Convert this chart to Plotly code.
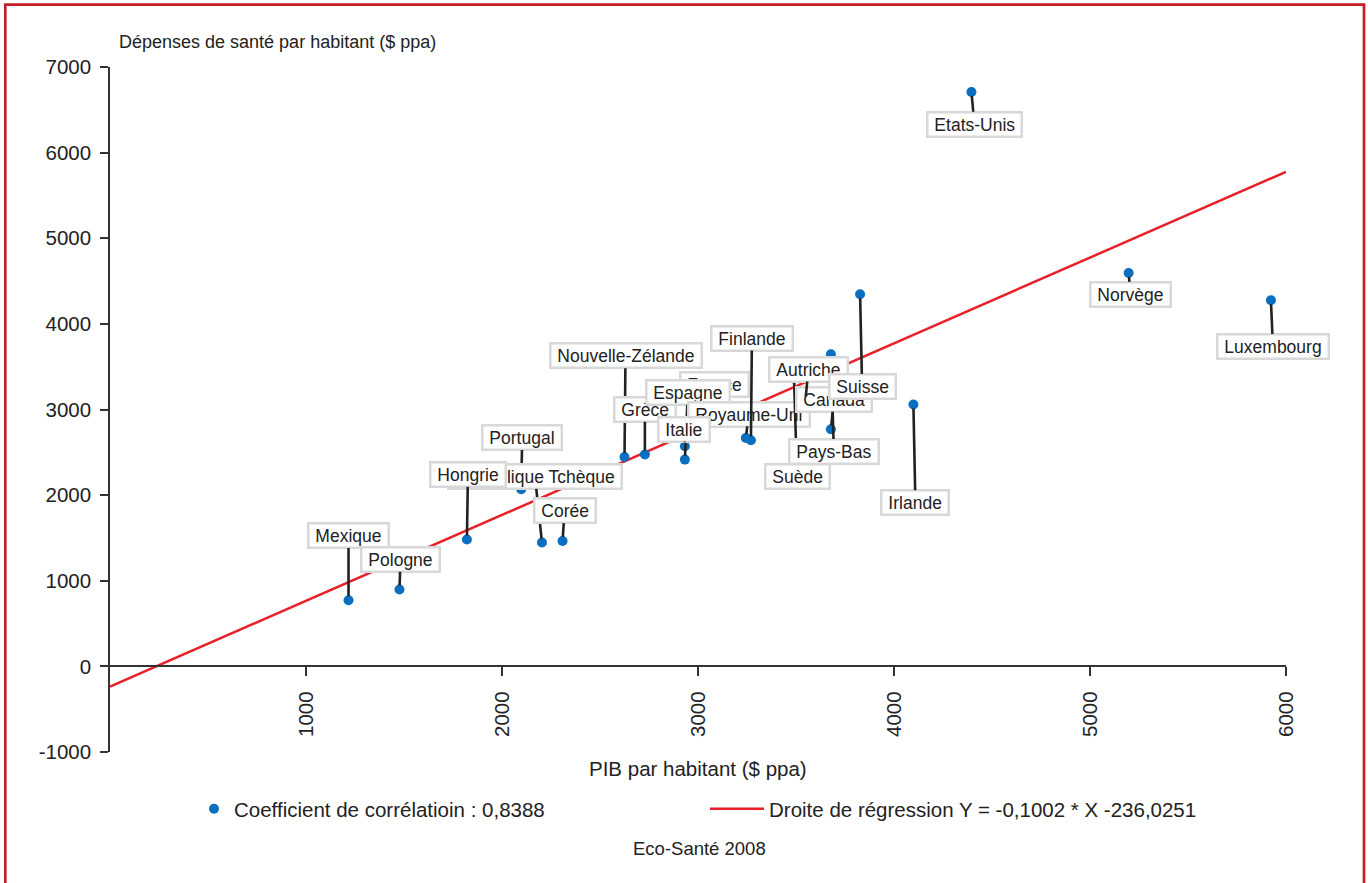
import plotly.graph_objects as go

# ---------------- data ----------------
countries = ["Mexique", "Pologne", "Portugal", "République Tchèque", "Hongrie", "Corée",
             "Nouvelle-Zélande", "Grèce", "France", "Espagne", "Royaume-Uni", "Italie",
             "Finlande", "Suède", "Pays-Bas", "Canada", "Autriche", "Suisse", "Irlande",
             "Etats-Unis", "Norvège", "Luxembourg"]
pib = [1217, 1477, 2098, 2204, 1821, 2309,
       2625, 2729, 3077, 2933, 3244, 2933,
       3270, 3490, 3678, 3678, 3548, 3827, 4099,
       4395, 5197, 5923]
depenses = [772, 897, 2068, 1446, 1481, 1465,
            2446, 2474, 2944, 2415, 2667, 2571,
            2641, 3361, 3645, 2769, 3108, 4346, 3058,
            6708, 4594, 4276]
reg_x = [0, 6000]
reg_y = [-236, 5776]
x_ticks = [1000, 2000, 3000, 4000, 5000, 6000]
y_ticks = [-1000, 0, 1000, 2000, 3000, 4000, 5000, 6000, 7000]

# label offsets in pixels (layout only)
label_dx = [0, 1, 1, -7, 1, 2, 1, 0, 1, 3, 3, -1, 1, 3, 3, 3, 3, 2, 2, 3, 2, 2]
label_dy = [-64.5, -30, -51.5, -66, -65, -30, -101, -45, -30, -67, -24, -17, -102,
            98, 97, -30, -31, 92, 98, 32, 21, 46]

# ---------------- geometry ----------------
W, H = 1368, 883
L, R, T, B = 110, 1368 - 1286, 67, 883 - 752
PW, PH = W - L - R, H - T - B


def px(xp):
    return (xp - L) / PW


def py(yp):
    return (H - B - yp) / PH


FONT = "Liberation Sans, Arial, Helvetica, sans-serif"
TXT = "#222222"

fig = go.Figure()
fig.add_trace(go.Scatter(
    x=reg_x, y=reg_y, mode="lines",
    line=dict(color="#e8202a", width=2.5),
    name="Droite de régression Y = -0,1002 * X -236,0251",
    legend="legend2", hoverinfo="skip"))
fig.add_trace(go.Scatter(
    x=pib, y=depenses, mode="markers",
    marker=dict(color="#0a6fc0", size=10),
    name="Coefficient de corrélatioin : 0,8388",
    text=countries, legend="legend"))

annotations = []
for c, xv, yv, dx, dy in zip(countries, pib, depenses, label_dx, label_dy):
    annotations.append(dict(
        x=xv, y=yv, xref="x", yref="y", ax=dx, ay=dy,
        text="\u00a0" + c + "\u00a0",
        showarrow=True, arrowhead=0, arrowwidth=2.6, arrowcolor="#222222", standoff=4,
        bgcolor="white", bordercolor="#d8d8d8", borderwidth=2.5, borderpad=1,
        font=dict(family=FONT, size=17.5, color=TXT)))

annotations.append(dict(
    x=px(117), y=py(42), xref="paper", yref="paper", xanchor="left", yanchor="middle",
    text="Dépenses de santé par habitant ($ ppa)", showarrow=False,
    font=dict(family=FONT, size=18, color=TXT)))
annotations.append(dict(
    x=px(700), y=py(848), xref="paper", yref="paper", xanchor="center", yanchor="middle",
    text="Eco-Santé 2008", showarrow=False,
    font=dict(family=FONT, size=18.5, color=TXT)))
annotations.append(dict(
    x=px(698), y=py(768), xref="paper", yref="paper", xanchor="center", yanchor="middle",
    text="PIB par habitant ($ ppa)", showarrow=False,
    font=dict(family=FONT, size=20.5, color=TXT)))

shapes = [dict(type="rect", xref="paper", yref="paper",
               x0=px(5.3), x1=px(1364), y0=py(4.7), y1=py(895),
               line=dict(color="#c41e2a", width=2.7), fillcolor="rgba(0,0,0,0)")]

fig.update_layout(
    width=W, height=H,
    margin=dict(l=L, r=R, t=T, b=B, autoexpand=False),
    paper_bgcolor="white", plot_bgcolor="white",
    font=dict(family=FONT, color=TXT),
    annotations=annotations, shapes=shapes,
    showlegend=True,
    legend=dict(x=px(194), y=py(809), xanchor="left", yanchor="middle",
                orientation="h", bgcolor="rgba(0,0,0,0)",
                font=dict(family=FONT, size=20.5, color=TXT)),
    legend2=dict(x=px(705), y=py(809), xanchor="left", yanchor="middle",
                 orientation="h", bgcolor="rgba(0,0,0,0)", itemwidth=54,
                 font=dict(family=FONT, size=20.5, color=TXT)),
    xaxis=dict(range=[0, 6000], anchor="free", position=1000 / 8000,
               tickmode="array", tickvals=x_ticks, ticktext=[str(v) for v in x_ticks],
               ticks="outside", ticklen=9, tickwidth=1.5, tickcolor="#333",
               showline=True, linecolor="#333", linewidth=1.6,
               tickangle=-90, ticklabelstandoff=7,
               showgrid=False, zeroline=False, automargin=False,
               tickfont=dict(family=FONT, size=20.5, color=TXT)),
    yaxis=dict(range=[-1000, 7000],
               tickmode="array", tickvals=y_ticks, ticktext=[str(v) for v in y_ticks],
               ticks="outside", ticklen=8, tickwidth=1.5, tickcolor="#333",
               showline=True, linecolor="#333", linewidth=1.6,
               ticklabelstandoff=5,
               showgrid=False, zeroline=False, automargin=False,
               tickfont=dict(family=FONT, size=20.5, color=TXT)),
)

fig.write_html("out.html",
               config={"displayModeBar": False},
               post_script="document.body.style.margin='0px';document.body.style.overflow='hidden';")
